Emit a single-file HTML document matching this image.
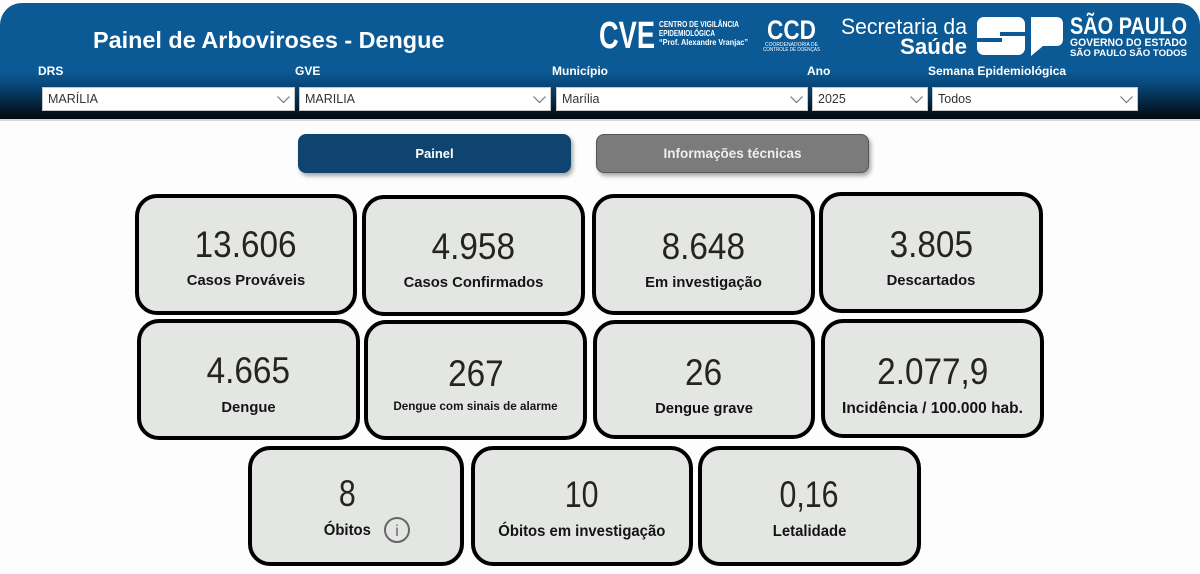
<!DOCTYPE html>
<html><head><meta charset="utf-8">
<style>
*{margin:0;padding:0;box-sizing:border-box}
html,body{width:1200px;height:574px;overflow:hidden;background:#fcfdfc;font-family:"Liberation Sans",sans-serif}
#hdr{position:absolute;left:0;top:3px;width:1200px;height:116px;border-radius:22px 22px 0 0;background:linear-gradient(to bottom,#0b5a96 0%,#0b5a96 58%,#094c80 68%,#063458 80%,#03182a 92%,#010810 100%)}
.hline{position:absolute;left:0;top:119px;width:1200px;height:2px;background:#d9d9d9}
.title{position:absolute;left:93px;top:26px;color:#fff;font-weight:bold;font-size:23.4px;line-height:28px;white-space:nowrap}
.lab{position:absolute;top:64px;color:#fff;font-weight:bold;font-size:12px;line-height:14px;white-space:nowrap}
.dd{position:absolute;top:87px;height:24px;background:#fff;border:1px solid #c8c8c8;color:#333;font-size:12.5px;line-height:22px;padding-left:5px;white-space:nowrap}
.dd svg{position:absolute;right:4px;top:8px}
.btn{position:absolute;top:134px;height:39px;border-radius:8px;text-align:center;font-weight:bold;line-height:39px;box-shadow:2px 3px 4px rgba(0,0,0,.35)}
.card{position:absolute;border:4px solid #000;border-radius:22px;background:#e4e6e4}
.num{position:absolute;left:0;width:100%;text-align:center;font-size:37px;line-height:40px;color:#252423;white-space:nowrap}
.num span{display:inline-block;transform:scaleX(.9)}
.r3 .num span{transform:scaleX(.82)}
.lb{position:absolute;left:0;width:100%;text-align:center;font-weight:bold;font-size:14.8px;line-height:18px;color:#141414;white-space:nowrap}
.r3 .lb span{display:inline-block;transform:scaleX(.93);font-size:16px}
</style></head><body>
<div id="hdr"></div>
<div class="hline"></div>
<div class="title">Painel de Arboviroses - Dengue</div>

<svg style="position:absolute;left:0;top:0" width="1200" height="70" viewBox="0 0 1200 70">
  <text x="599" y="48" fill="#fff" font-family="Liberation Sans" font-weight="bold" font-size="38" textLength="56" lengthAdjust="spacingAndGlyphs">CVE</text>
  <text x="659" y="27" fill="#fff" font-family="Liberation Sans" font-weight="bold" font-size="8.5" textLength="80" lengthAdjust="spacingAndGlyphs">CENTRO DE VIGILÂNCIA</text>
  <text x="659" y="36" fill="#fff" font-family="Liberation Sans" font-weight="bold" font-size="8.5" textLength="56" lengthAdjust="spacingAndGlyphs">EPIDEMIOLÓGICA</text>
  <text x="659" y="45" fill="#fff" font-family="Liberation Sans" font-weight="bold" font-size="8.5" textLength="89" lengthAdjust="spacingAndGlyphs">“Prof. Alexandre Vranjac”</text>
  <text x="767" y="39" fill="#fff" font-family="Liberation Sans" font-weight="bold" font-size="27" textLength="49" lengthAdjust="spacingAndGlyphs">CCD</text>
  <text x="765" y="46" fill="#fff" font-family="Liberation Sans" font-size="5" textLength="53" lengthAdjust="spacingAndGlyphs">COORDENADORIA DE</text>
  <text x="763" y="51" fill="#fff" font-family="Liberation Sans" font-size="5" textLength="57" lengthAdjust="spacingAndGlyphs">CONTROLE DE DOENÇAS</text>
  <text x="841" y="34" fill="#fff" font-family="Liberation Sans" font-size="22" textLength="126" lengthAdjust="spacingAndGlyphs">Secretaria da</text>
  <text x="900" y="54" fill="#fff" font-family="Liberation Sans" font-weight="bold" font-size="22" textLength="67" lengthAdjust="spacingAndGlyphs">Saúde</text>
  <rect x="977" y="17" width="48" height="38" rx="7" fill="#fff"/>
  <rect x="1000" y="32" width="25" height="4" fill="#0b5a96"/>
  <rect x="977" y="38" width="25" height="4" fill="#0b5a96"/>
  <path d="M1031,17 h25 q7,0 7,7 v15 q0,7 -7,7 h-13 L1031,56 Z" fill="#fff"/>
  <text x="1070" y="34" fill="#fff" font-family="Liberation Sans" font-weight="bold" font-size="24" textLength="117" lengthAdjust="spacingAndGlyphs">SÃO PAULO</text>
  <text x="1070" y="46" fill="#fff" font-family="Liberation Sans" font-weight="bold" font-size="11" textLength="117" lengthAdjust="spacingAndGlyphs">GOVERNO DO ESTADO</text>
  <text x="1070" y="56" fill="#fff" font-family="Liberation Sans" font-weight="bold" font-size="9.5" textLength="117" lengthAdjust="spacingAndGlyphs">SÃO PAULO SÃO TODOS</text>
</svg>

<div class="lab" style="left:38px">DRS</div>
<div class="lab" style="left:295px">GVE</div>
<div class="lab" style="left:552px">Município</div>
<div class="lab" style="left:807px">Ano</div>
<div class="lab" style="left:928px">Semana Epidemiológica</div>

<div class="dd" style="left:42px;width:253px">MARÍLIA<svg width="13" height="8"><polyline points="0.5,0.5 6.5,6.5 12.5,0.5" fill="none" stroke="#777" stroke-width="1.2"/></svg></div>
<div class="dd" style="left:299px;width:252px">MARILIA<svg width="13" height="8"><polyline points="0.5,0.5 6.5,6.5 12.5,0.5" fill="none" stroke="#777" stroke-width="1.2"/></svg></div>
<div class="dd" style="left:556px;width:252px">Marília<svg width="13" height="8"><polyline points="0.5,0.5 6.5,6.5 12.5,0.5" fill="none" stroke="#777" stroke-width="1.2"/></svg></div>
<div class="dd" style="left:812px;width:116px">2025<svg width="13" height="8"><polyline points="0.5,0.5 6.5,6.5 12.5,0.5" fill="none" stroke="#777" stroke-width="1.2"/></svg></div>
<div class="dd" style="left:932px;width:206px">Todos<svg width="13" height="8"><polyline points="0.5,0.5 6.5,6.5 12.5,0.5" fill="none" stroke="#777" stroke-width="1.2"/></svg></div>

<div class="btn" style="left:298px;width:273px;background:#0f4470;color:#fff;font-size:13px">Painel</div>
<div class="btn" style="left:596px;width:273px;background:#7b7b7b;border:1px solid #555;line-height:37px;color:#eee;font-size:13.5px">Informações técnicas</div>

<!-- row 1 -->
<div class="card" style="left:135px;top:194px;width:222px;height:121px"><div class="num" style="top:27px"><span>13.606</span></div><div class="lb" style="top:74px">Casos Prováveis</div></div>
<div class="card" style="left:362px;top:195px;width:223px;height:121px"><div class="num" style="top:28px"><span>4.958</span></div><div class="lb" style="top:75px">Casos Confirmados</div></div>
<div class="card" style="left:592px;top:194px;width:223px;height:121px"><div class="num" style="top:29px"><span>8.648</span></div><div class="lb" style="top:76px">Em investigação</div></div>
<div class="card" style="left:819px;top:192px;width:224px;height:121px"><div class="num" style="top:29px"><span>3.805</span></div><div class="lb" style="top:76px">Descartados</div></div>

<!-- row 2 -->
<div class="card" style="left:137px;top:319px;width:223px;height:121px"><div class="num" style="top:28px"><span>4.665</span></div><div class="lb" style="top:76px">Dengue</div></div>
<div class="card" style="left:364px;top:320px;width:223px;height:120px"><div class="num" style="top:30px"><span>267</span></div><div class="lb" style="top:74px;font-size:11.7px">Dengue com sinais de alarme</div></div>
<div class="card" style="left:593px;top:320px;width:222px;height:119px"><div class="num" style="top:29px"><span>26</span></div><div class="lb" style="top:76px">Dengue grave</div></div>
<div class="card" style="left:821px;top:319px;width:223px;height:119px"><div class="num" style="top:29px"><span>2.077,9</span></div><div class="lb" style="top:77px;font-size:15.5px">Incidência / 100.000 hab.</div></div>

<!-- row 3 -->
<div class="card r3" style="left:248px;top:446px;width:216px;height:120px">
  <div class="num" style="top:24px;left:-9px"><span>8</span></div>
  <div class="lb" style="top:72px;left:45px;width:100px"><span>Óbitos</span></div>
  <svg style="position:absolute;left:131px;top:66px" width="28" height="28"><circle cx="14" cy="14" r="12" fill="none" stroke="#666" stroke-width="2"/><text x="14" y="20" text-anchor="middle" fill="#666" font-family="Liberation Sans" font-size="16">i</text></svg>
</div>
<div class="card r3" style="left:471px;top:446px;width:222px;height:120px"><div class="num" style="top:25px"><span>10</span></div><div class="lb" style="top:73px"><span>Óbitos em investigação</span></div></div>
<div class="card r3" style="left:698px;top:446px;width:223px;height:120px"><div class="num" style="top:25px"><span>0,16</span></div><div class="lb" style="top:73px"><span>Letalidade</span></div></div>

</body></html>
